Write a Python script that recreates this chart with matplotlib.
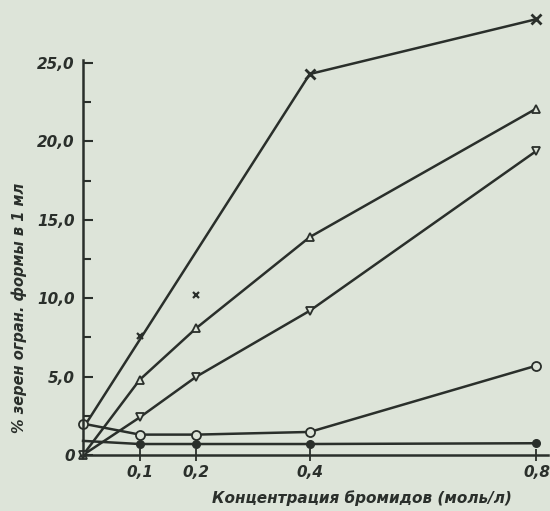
import matplotlib
matplotlib.use("Agg")
import matplotlib.pyplot as plt
from matplotlib.ticker import FixedLocator

# Data
conc = [0, 0.1, 0.2, 0.4, 0.8]
star_line_x = [0, 0.4, 0.8]
star_line_y = [1.7, 24.3, 27.8]
star_extra_x = [0.1, 0.2]
star_extra_y = [7.6, 10.2]
tri_up = [0, 4.8, 8.1, 13.9, 22.1]
tri_down = [0, 2.4, 5.0, 9.2, 19.4]
open_circ = [2.0, 1.3, 1.3, 1.47, 5.7]
filled_circ = [0.9, 0.7, 0.7, 0.7, 0.75]

yticks = [0, 5, 10, 15, 20, 25]
ytick_labels = ["0", "5,0", "10,0", "15,0", "20,0", "25,0"]
yminor = [2.5, 7.5, 12.5, 17.5, 22.5]
xticks = [0.1, 0.2, 0.4, 0.8]
xtick_labels = ["0,1", "0,2", "0,4", "0,8"]

bg = "#dde4d9"
ink = "#2a2f2b"
fam = ["DejaVu Sans"]

fig = plt.figure(figsize=(5.5, 5.11), dpi=100, facecolor=bg)
ax = fig.add_axes([0.151, 0.1096, 0.845, 0.8744])
ax.set_facecolor(bg)

lw = 1.8
ax.plot(star_line_x, star_line_y, color=ink, lw=lw, marker="x", ms=7, mew=2,
        markevery=[1, 2], clip_on=False)
ax.plot(star_extra_x, star_extra_y, ls="none", color=ink, marker="x", ms=5, mew=1.6,
        clip_on=False)
ax.plot(conc, tri_up, color=ink, lw=lw, marker="^", ms=6, mfc=bg, mew=1.3, clip_on=False)
ax.plot(conc, tri_down, color=ink, lw=lw, marker="v", ms=6, mfc=bg, mew=1.3, clip_on=False)
ax.plot(conc, open_circ, color=ink, lw=lw, marker="o", ms=6.5, mfc=bg, mew=1.3, clip_on=False)
ax.plot(conc[1:], filled_circ[1:], color=ink, lw=lw, marker="o", ms=5.5, clip_on=False)
ax.plot(conc[:2], filled_circ[:2], color=ink, lw=lw, clip_on=False)

ax.set_xlim(0, 0.82)
ax.set_ylim(0, 28.5)

for s in ["top", "right"]:
    ax.spines[s].set_visible(False)
ax.spines["left"].set_bounds(0, 25.2)
for s in ["left", "bottom"]:
    ax.spines[s].set_color(ink)
    ax.spines[s].set_linewidth(1.8)

ax.yaxis.set_major_locator(FixedLocator(yticks))
ax.yaxis.set_minor_locator(FixedLocator(yminor))
ax.set_yticklabels(ytick_labels, fontsize=11, fontstyle="italic", fontweight="bold",
                   family=fam, color=ink)
ax.tick_params(axis="y", which="major", direction="in", length=7, width=1.5, color=ink, pad=6)
ax.tick_params(axis="y", which="minor", direction="in", length=6, width=1.5, color=ink)

ax.xaxis.set_major_locator(FixedLocator(xticks))
ax.set_xticklabels(xtick_labels, fontsize=11, fontstyle="italic", fontweight="bold",
                   family=fam, color=ink)
ax.tick_params(axis="x", which="major", direction="inout", length=8, width=1.3, color=ink, pad=3)

ax.set_xlabel("Концентрация бромидов (моль/л)", fontsize=11, fontstyle="italic",
              fontweight="bold", family=fam, color=ink)
ax.xaxis.set_label_coords(0.60, -0.08)
ax.set_ylabel("% зерен огран. формы в 1 мл", fontsize=10.5, fontstyle="italic",
              fontweight="bold", family=fam, color=ink)
ax.yaxis.set_label_coords(-0.12, 0.33)

fig.savefig("out.png", dpi=100, facecolor=bg)
